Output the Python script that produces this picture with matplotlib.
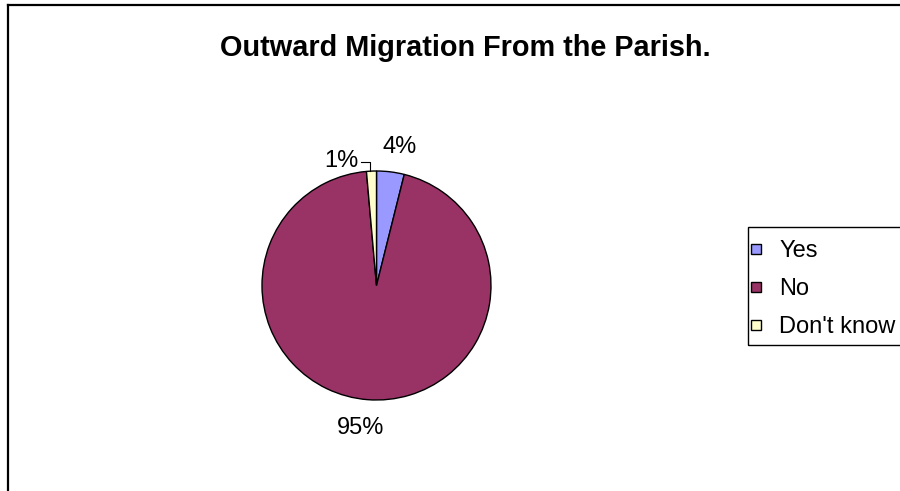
import numpy as np
import matplotlib
matplotlib.use("Agg")
import matplotlib.pyplot as plt
from matplotlib.lines import Line2D
from matplotlib.patches import Rectangle

plt.rcParams['font.family'] = ['Liberation Sans', 'DejaVu Sans']

title = "Outward Migration From the Parish."
categories = ["Yes", "No", "Don't know"]
values = [3.9, 94.7, 1.4]
labels = ["4%", "95%", "1%"]
colors = ["#9999FF", "#993366", "#FFFFCC"]

W, H = 900, 491
fig = plt.figure(figsize=(9, 4.91), dpi=100)

# outer border (left and top visible)
fig.add_artist(Line2D([8/W, 8/W], [0, 1 - 5/H], color='black', lw=1.6, transform=fig.transFigure))
fig.add_artist(Line2D([8/W, 1], [1 - 5/H, 1 - 5/H], color='black', lw=1.6, transform=fig.transFigure))

fig.text(465/W, 1 - 47.5/H, title, ha='center', va='center', fontsize=20.8, fontweight='bold')

cx, cy, r = 376.5, 285.5, 114.5
ax = fig.add_axes([(cx - r)/W, (H - cy - r)/H, 2*r/W, 2*r/H])
wedges, _ = ax.pie(values, colors=colors, startangle=90, counterclock=False, radius=1,
                   wedgeprops=dict(edgecolor='black', linewidth=1.0))
ax.set_xlim(-1, 1)
ax.set_ylim(-1, 1)
ax.set_aspect('equal')
ax.axis('off')

for i, w in enumerate(wedges):
    mid = np.deg2rad((w.theta1 + w.theta2) / 2)
    if labels[i] == "1%":
        ex, ey = np.cos(mid), np.sin(mid)
        ly = 1.08
        ax.plot([ex - 0.015, ex - 0.015, ex - 0.09], [ey, ly, ly], color='black', lw=0.8, clip_on=False)
        ax.text(ex - 0.11, ly + 0.005, labels[i], ha='right', va='center', fontsize=17, clip_on=False)
    else:
        d = 1.22 if labels[i] == "4%" else 1.245
        dx = 0.05 if labels[i] == "4%" else -0.04
        ax.text(d*np.cos(mid) + dx, d*np.sin(mid), labels[i], ha='center', va='center', fontsize=17, clip_on=False)

handles = [Line2D([], [], linestyle='none', marker='s', markersize=6.5,
                  markerfacecolor=c, markeredgecolor='black', markeredgewidth=1.0) for c in colors]
leg = fig.legend(handles, categories, loc='upper left', bbox_to_anchor=(748/W, 1 - 238/H),
                 bbox_transform=fig.transFigure, borderaxespad=0, fontsize=17,
                 handlelength=0.5, handletextpad=0.735,
                 labelspacing=0.68, borderpad=0.08, frameon=False)

fig.canvas.draw()
bb = leg.get_window_extent()
top_pad, bot_pad = 11, 5
fig.add_artist(Rectangle((bb.x0 / W, (bb.y0 - bot_pad) / H),
                         (W + 20 - bb.x0) / W, (bb.height + top_pad + bot_pad) / H,
                         transform=fig.transFigure, facecolor='none', edgecolor='black',
                         linewidth=1.0, clip_on=False))

fig.savefig("out.png", dpi=100)
